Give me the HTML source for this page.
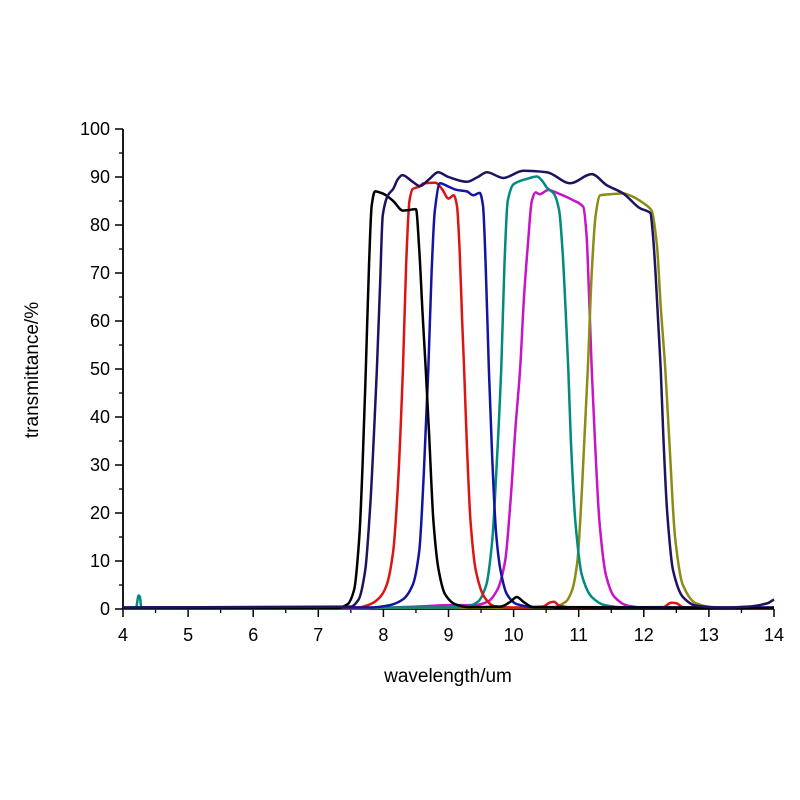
<!DOCTYPE html>
<html><head><meta charset="utf-8"><style>
html,body{margin:0;padding:0;background:#fff;}
svg{display:block;font-family:"Liberation Sans",Arial,sans-serif;}
</style></head><body>
<svg id="chart" width="800" height="800" viewBox="0 0 800 800">
<rect width="800" height="800" fill="#fff"/>
<g id="axes"></g>
<g id="series"></g>
<text x="448" y="682" font-size="19" text-anchor="middle" fill="#000">wavelength/um</text>
<text transform="translate(38,370) rotate(-90)" font-size="19" text-anchor="middle" fill="#000">transmittance/%</text>
</svg>
<script>
const xTicks = [4,5,6,7,8,9,10,11,12,13,14];
const yTicks = [0,10,20,30,40,50,60,70,80,90,100];
const seriesNames = ["magenta","olive","teal","red","blue","black","navy"];
const seriesColors = ["#c814c8","#8c8c14","#008a80","#dc1414","#1414a0","#000000","#1c1460"];
const magentaW = [4,7.5,8.5,9.0,9.4,9.6,9.75,9.87,9.95,10.03,10.1,10.16,10.22,10.28,10.34,10.4,10.53,10.7,10.91,11.07,11.12,11.16,11.2,11.25,11.32,11.42,11.55,11.75,12.0,14];
const magentaT = [0.1,0.1,0.5,0.8,0.8,1.5,4,10,22,38,50,65,76,85,86.8,86.4,87.3,86.5,85.2,83.8,78,65,50,35,18,7,2.5,0.7,0.3,0.2];
const oliveW = [4,10.6,10.8,10.9,10.98,11.05,11.14,11.2,11.26,11.33,11.59,11.68,11.83,12.0,12.12,12.2,12.26,12.33,12.4,12.48,12.6,12.8,13.1,14];
const oliveT = [0.2,0.3,1.5,4,10,25,50,70,82,86.2,86.5,86.6,85.9,84.5,83,76,63,50,33,15,5,1.2,0.3,0.2];
const tealW = [4,4.2,4.24,4.26,4.28,9.0,9.3,9.45,9.58,9.67,9.74,9.81,9.86,9.91,10.0,10.2,10.36,10.45,10.51,10.62,10.7,10.75,10.8,10.84,10.88,10.95,11.05,11.2,11.4,11.7,14];
const tealT = [0.3,0.3,2.8,2.5,0.4,0.3,0.6,1.5,5,14,30,50,72,85,88.5,89.6,90.1,89,87.8,86.5,83,75,62,50,35,18,7,2.5,0.8,0.3,0.3];
const redW = [4,7.6,7.8,7.95,8.05,8.15,8.22,8.3,8.35,8.4,8.45,8.55,8.62,8.8,8.9,9.0,9.08,9.13,9.17,9.21,9.24,9.28,9.34,9.42,9.55,9.7,10.0,10.45,10.55,10.62,10.7,10.9,12.3,12.42,12.5,12.6,14];
const redT = [0.2,0.3,1,2.5,5,12,25,50,72,85,87.5,88,88.7,88.8,87.5,85.5,86.2,84,75,60,50,35,18,8,2.5,0.6,0.3,0.5,1.3,1.5,0.7,0.3,0.4,1.3,1.2,0.4,0.2];
const blueW = [4,7.8,8.1,8.3,8.45,8.55,8.62,8.69,8.74,8.79,8.87,9.0,9.13,9.28,9.38,9.48,9.53,9.57,9.62,9.67,9.73,9.8,9.9,10.05,10.3,14];
const blueT = [0.3,0.3,0.8,2,5,12,28,50,70,83,88.7,88,87.3,87,86.2,86.7,84,72,50,32,16,8,3,1,0.4,0.3];
const blackW = [4,7.3,7.45,7.55,7.63,7.68,7.73,7.78,7.82,7.87,8.0,8.15,8.3,8.38,8.5,8.55,8.6,8.65,8.7,8.77,8.85,8.95,9.1,9.3,9.8,9.95,10.05,10.15,10.3,14];
const blackT = [0.2,0.2,1,4,15,30,50,72,84,87,86.5,85,83,83.1,83.3,75,62,50,37,18,8,3,1,0.4,0.5,1.5,2.5,1.5,0.4,0.2];
const navyW = [4,7.5,7.62,7.72,7.8,7.86,7.9,7.95,7.99,8.07,8.15,8.22,8.29,8.45,8.56,8.7,8.84,9.0,9.28,9.45,9.59,9.84,10.15,10.51,10.87,11.2,11.43,11.68,11.94,12.1,12.14,12.18,12.22,12.26,12.3,12.36,12.45,12.6,12.8,13.2,13.6,13.9,14];
const navyT = [0.3,0.5,2,8,22,38,50,68,82,86.2,87.5,89.5,90.4,89,88.1,89.5,91,90,89,90,91,89.8,91.3,91,88.7,90.6,88.3,86.6,83.5,82.5,78,70,60,50,36,20,8,2.5,0.7,0.3,0.5,1.2,2];
const seriesW = [magentaW,oliveW,tealW,redW,blueW,blackW,navyW];
const seriesT = [magentaT,oliveT,tealT,redT,blueT,blackT,navyT];

const X0=123, X1=774, Y0=609, Y1=129;
const xMin=4, xMax=14, yMin=0, yMax=100;
function xs(w){return X0+(w-xMin)/(xMax-xMin)*(X1-X0);}
function ys(t){return Y0-(t-yMin)/(yMax-yMin)*(Y0-Y1);}
const NS="http://www.w3.org/2000/svg";
const axes=document.getElementById('axes');
function mk(tag,attrs,parent){const e=document.createElementNS(NS,tag);for(const k in attrs)e.setAttribute(k,attrs[k]);parent.appendChild(e);return e;}

let l=mk('line',{x1:X0,y1:Y0,x2:X1,y2:Y0,stroke:'#000','stroke-width':1.8},axes);


l=mk('line',{x1:X0,y1:Y0,x2:X0,y2:Y1,stroke:'#000','stroke-width':1.8},axes);



xTicks.forEach((v,i)=>{
  const x=xs(v);
  const t=mk('line',{x1:x,y1:Y0,x2:x,y2:Y0+8,stroke:'#000','stroke-width':1.5},axes);
  
  
  if(i<xTicks.length-1){
    const m=mk('line',{x1:xs(v+0.5),y1:Y0,x2:xs(v+0.5),y2:Y0+4,stroke:'#000','stroke-width':1.3},axes);
    
    
  }
  const tx=mk('text',{x:x,y:Y0+32,'font-size':18,'text-anchor':'middle',fill:'#000'},axes);
  tx.textContent=String(v);
  
  
});
yTicks.forEach((v,i)=>{
  const y=ys(v);
  const t=mk('line',{x1:X0-8,y1:y,x2:X0,y2:y,stroke:'#000','stroke-width':1.5},axes);
  
  
  if(i<yTicks.length-1){
    const m=mk('line',{x1:X0-4,y1:ys(v+5),x2:X0,y2:ys(v+5),stroke:'#000','stroke-width':1.3},axes);
    
    
  }
  const tx=mk('text',{x:X0-13,y:y+6,'font-size':18,'text-anchor':'end',fill:'#000'},axes);
  tx.textContent=String(v);
  
  
});

function monotonePath(px,py){
  const n=px.length;
  if(n<2)return '';
  const d=[],m=new Array(n);
  for(let i=0;i<n-1;i++)d.push((py[i+1]-py[i])/(px[i+1]-px[i]));
  m[0]=d[0];m[n-1]=d[n-2];
  for(let i=1;i<n-1;i++){ if(d[i-1]*d[i]<=0)m[i]=0; else m[i]=2/(1/d[i-1]+1/d[i]); }
  let s='M'+px[0].toFixed(2)+','+py[0].toFixed(2);
  for(let i=0;i<n-1;i++){
    const h=px[i+1]-px[i];
    s+=' C'+(px[i]+h/3).toFixed(2)+','+(py[i]+m[i]*h/3).toFixed(2)+' '+(px[i+1]-h/3).toFixed(2)+','+(py[i+1]-m[i+1]*h/3).toFixed(2)+' '+px[i+1].toFixed(2)+','+py[i+1].toFixed(2);
  }
  return s;
}
const sg=document.getElementById('series');
seriesNames.forEach((name,k)=>{
  const px=seriesW[k].map(xs), py=seriesT[k].map(ys);
  const p=mk('path',{d:monotonePath(px,py),fill:'none',stroke:seriesColors[k],'stroke-width':2.5,'stroke-linejoin':'round'},sg);
  
  
});
</script>
</body></html>
